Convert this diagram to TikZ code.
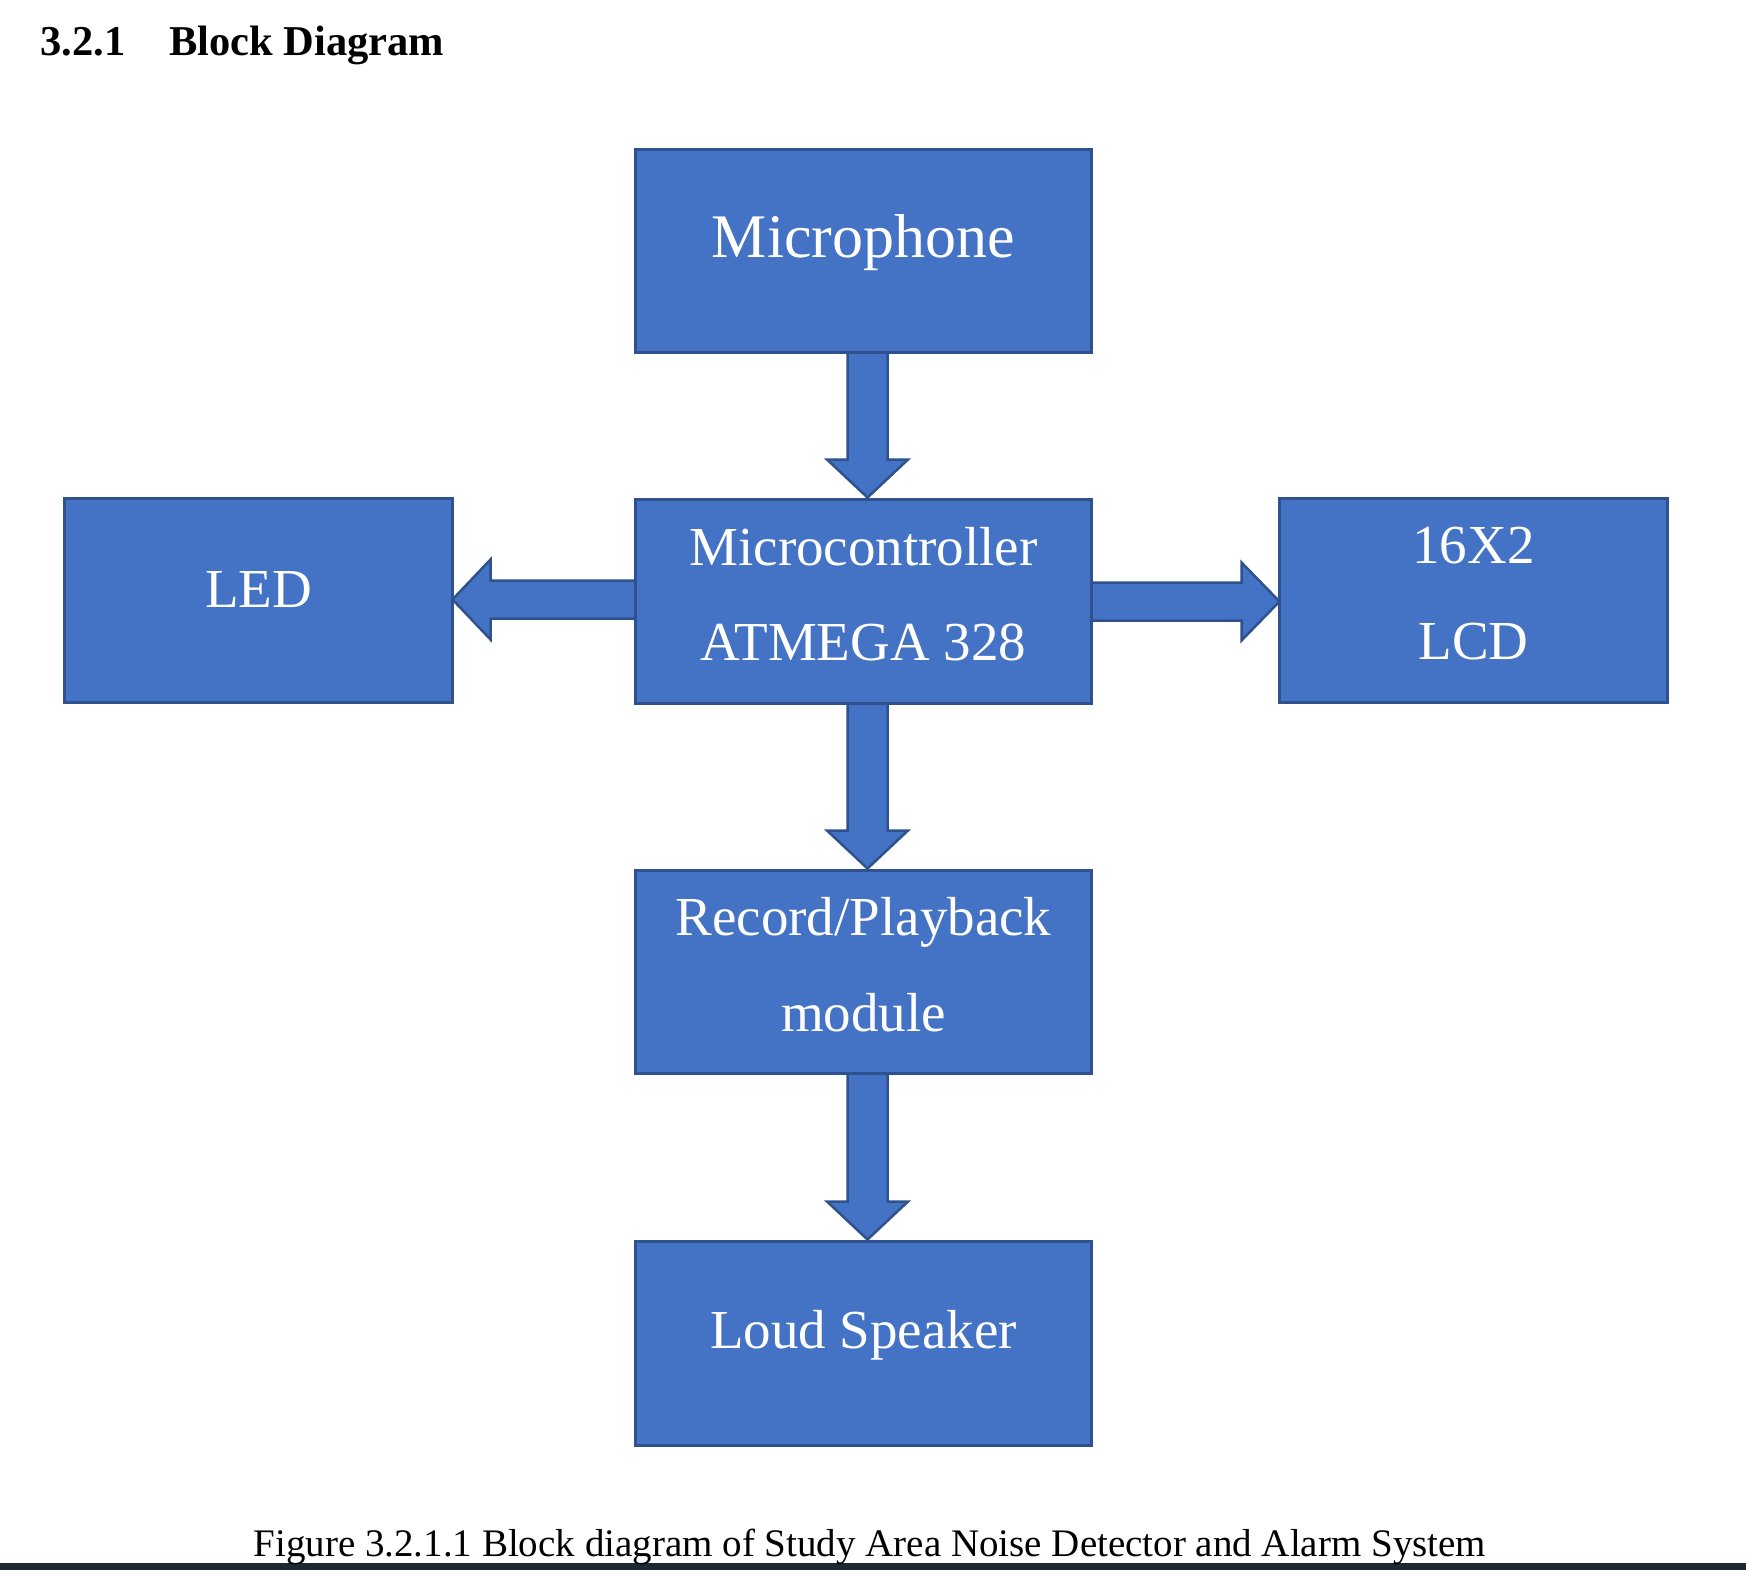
\documentclass[tikz,border=0pt]{standalone}
\usepackage{fontspec}
\setmainfont{Liberation Serif}
\usetikzlibrary{calc,backgrounds}
\definecolor{boxfill}{HTML}{4472C4}
\definecolor{boxline}{HTML}{2F528F}
\definecolor{stripcol}{HTML}{1E2833}
\tikzset{
  block/.style={draw=boxline, fill=boxfill, line width=3pt, inner sep=0pt, outer sep=0pt,
    text=white, font=\fontsize{55}{66}\selectfont, minimum height=203pt},
  wideblock/.style={block, minimum width=456pt},
  sideblock/.style={block, minimum width=388pt},
  blockarrow/.style={draw=boxline, fill=boxfill, line width=2.5pt, line join=miter},
}
\newcommand\linetext[2]{\makebox[0pt]{\raisebox{#1}[0pt][0pt]{#2}}}
% vertical block arrow from bottom of #1 to top of #2
\newcommand\vconnect[2]{%
  \draw[blockarrow]
    ($(#1.south)+(-16,0)$) --
    ($(#2.north -| #1.south)+(-16,-40)$) --
    ($(#2.north -| #1.south)+(-36.5,-40)$) --
    ($(#2.north -| #1.south)+(4,-2)$) --
    ($(#2.north -| #1.south)+(44.5,-40)$) --
    ($(#2.north -| #1.south)+(24,-40)$) --
    ($(#1.south)+(24,0)$) -- cycle;}
% block arrow from west side of #1 to east side of #2
\newcommand\lconnect[2]{%
  \draw[blockarrow]
    ($(#1.west)+(0,-21)$) --
    ($(#2.east |- #1.west)+(38,-21)$) --
    ($(#2.east |- #1.west)+(38,-42)$) --
    ($(#2.east |- #1.west)+(0,-2)$) --
    ($(#2.east |- #1.west)+(38,38)$) --
    ($(#2.east |- #1.west)+(38,17)$) --
    ($(#1.west)+(0,17)$) -- cycle;}
% block arrow from east side of #1 to west side of #2
\newcommand\rconnect[2]{%
  \draw[blockarrow]
    ($(#1.east)+(0,-19)$) --
    ($(#2.west |- #1.east)+(-38,-19)$) --
    ($(#2.west |- #1.east)+(-38,-39)$) --
    ($(#2.west |- #1.east)+(0,0)$) --
    ($(#2.west |- #1.east)+(-38,39)$) --
    ($(#2.west |- #1.east)+(-38,19)$) --
    ($(#1.east)+(0,19)$) -- cycle;}
\begin{document}
\begin{tikzpicture}[x=1pt,y=-1pt]
  \useasboundingbox (0,0) rectangle (1746,1570);
  \begin{pgfonlayer}{background}
    \fill[white] (0,0) rectangle (1746,1570);
    \fill[stripcol] (0,1563) rectangle (1746,1570);
  \end{pgfonlayer}

  \node[anchor=base west, font=\fontsize{42.5}{50}\selectfont\bfseries] (title) at (37,56)
    {3.2.1\hspace{43.5pt}Block Diagram};

  \node[wideblock, font=\fontsize{62}{70}\selectfont] (mic) at (863.5,251)
    {\linetext{-7pt}{Microphone}};
  \node[wideblock, minimum height=204pt] (mcu) at (863.5,601.5)
    {\linetext{36.5pt}{Microcontroller}\linetext{-58.5pt}{ATMEGA 328}};
  \node[sideblock, minimum height=204pt] (led) at (258.5,600.5)
    {\linetext{-6.5pt}{LED}};
  \node[sideblock, minimum height=204pt] (lcd) at (1473.5,600.5)
    {\linetext{37.5pt}{16X2}\linetext{-58.5pt}{LCD}};
  \node[wideblock] (rec) at (863.5,972)
    {\linetext{37pt}{Record/Playback}\linetext{-59pt}{module}};
  \node[wideblock, minimum height=204pt] (spk) at (863.5,1343.5)
    {\linetext{-4.5pt}{Loud Speaker}};

  \begin{pgfonlayer}{background}
    \vconnect{mic}{mcu}
    \vconnect{mcu}{rec}
    \vconnect{rec}{spk}
    \lconnect{mcu}{led}
    \rconnect{mcu}{lcd}
  \end{pgfonlayer}

  \node[anchor=base west, font=\fontsize{39}{46}\selectfont] (caption) at (250,1556)
    {Figure 3.2.1.1 Block diagram of Study Area Noise Detector and Alarm System};
\end{tikzpicture}
\end{document}
